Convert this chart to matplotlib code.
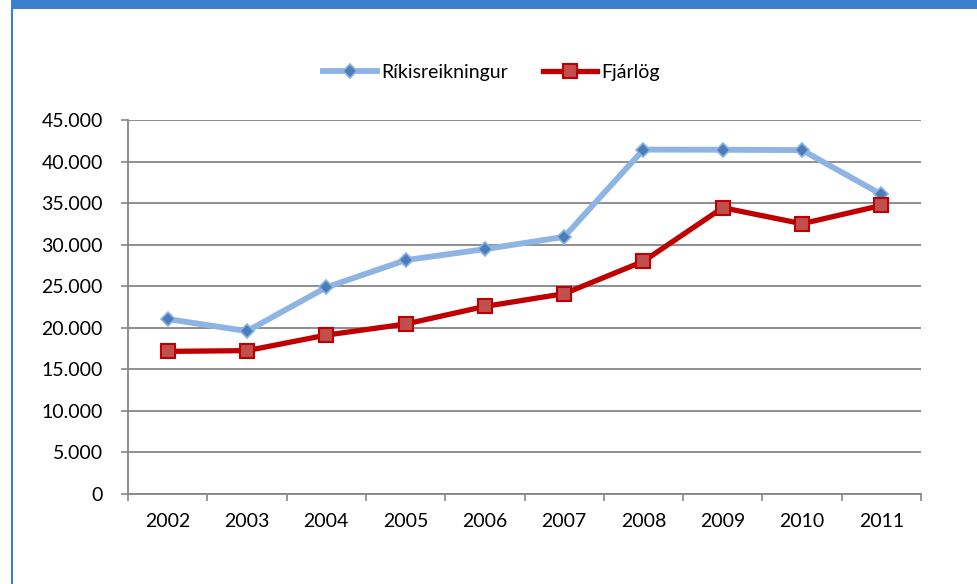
import matplotlib
matplotlib.use("Agg")
import matplotlib.pyplot as plt
from matplotlib.patches import Rectangle
from matplotlib.ticker import FuncFormatter, FixedLocator

years = ["2002", "2003", "2004", "2005", "2006", "2007", "2008", "2009", "2010", "2011"]
rikisreikningur = [21050, 19600, 24860, 28140, 29460, 30940, 41440, 41420, 41380, 36050]
fjarlog = [17160, 17250, 19120, 20450, 22570, 24100, 28000, 34450, 32520, 34720]
title = "Samanburður á ríkisreikningi og fjárlögum (m.kr.)"

plt.rcParams['font.family'] = ['Lato', 'DejaVu Sans']

fig = plt.figure(figsize=(9.78, 5.84), dpi=100)
fig.patch.set_facecolor("white")

# frame: blue banner and left border
fig.patches.append(Rectangle((12/978, 1 - 9/584), 1 - 12/978, 9/584, transform=fig.transFigure,
                             facecolor="#3A80D0", edgecolor="none", zorder=0))
fig.patches.append(Rectangle((11.5/978, 0), 2/978, 1, transform=fig.transFigure,
                             facecolor="#3A80D0", edgecolor="none", zorder=0))
fig.text(525/978, 1 + 3.5/584, title, color="white", fontsize=18, ha="center", va="baseline",
         family=['Lato', 'DejaVu Sans'])

ax = fig.add_axes([128/978, (584-494)/584, (921-128)/978, (494-120)/584])
x = list(range(len(years)))

ax.plot(x, rikisreikningur, color="#8DB4E2", lw=4.2, marker="D", markersize=7.5,
        markerfacecolor="#4A7EBB", markeredgecolor="#8DB4E2", markeredgewidth=1.2,
        label="Ríkisreikningur", zorder=3, solid_joinstyle="round")
ax.plot(x, fjarlog, color="#C00000", lw=3.8, marker="s", markersize=10,
        markerfacecolor="#C0504D", markeredgecolor="#C00000", markeredgewidth=1.5,
        label="Fjárlög", zorder=4, solid_joinstyle="round")

ax.set_xlim(-0.5, len(years) - 0.5)
ax.set_ylim(0, 45000)
ax.set_yticks(range(0, 45001, 5000))
ax.yaxis.set_major_formatter(FuncFormatter(lambda v, p: f"{int(v):,}".replace(",", ".")))
ax.set_xticks(x)
ax.set_xticklabels(years)
ax.xaxis.set_minor_locator(FixedLocator([i - 0.5 for i in range(len(years) + 1)]))
ax.tick_params(axis="x", which="major", length=0, pad=14, labelsize=14)
ax.tick_params(axis="x", which="minor", length=5, width=1.2, color="#868686", direction="out")
ax.tick_params(axis="y", length=5, width=1.2, color="#868686", pad=13, labelsize=14)

ax.grid(axis="y", color="#868686", lw=1.3)
ax.set_axisbelow(True)
for s in ["top", "right"]:
    ax.spines[s].set_visible(False)
for s in ["left", "bottom"]:
    ax.spines[s].set_color("#868686")
    ax.spines[s].set_linewidth(1.3)

leg = fig.legend(handles=ax.get_lines(), loc="center", bbox_to_anchor=(491/978, 1 - 72/584),
                 ncol=2, frameon=False, fontsize=14, handlelength=2.8, columnspacing=1.8,
                 handletextpad=0.2)

fig.savefig("out.png", dpi=100, facecolor="white")
